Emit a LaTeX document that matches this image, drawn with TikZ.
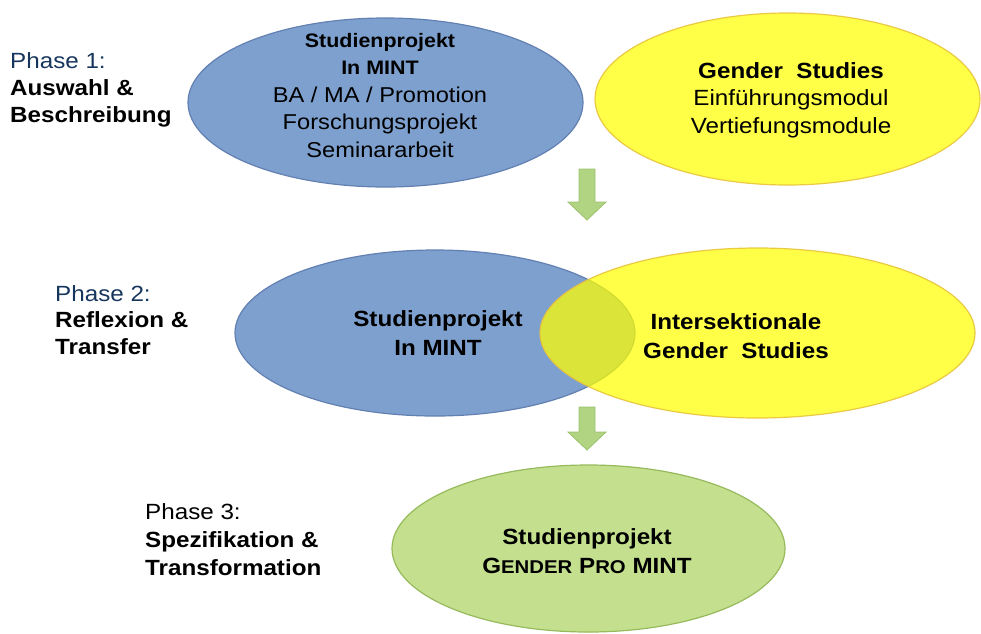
\documentclass[tikz,border=0pt]{standalone}
\usepackage{fontspec}
\setmainfont{Liberation Sans}[FakeStretch=1.1]
\usetikzlibrary{shapes.geometric}
\definecolor{mintblue}{RGB}{126,160,206}
\definecolor{mintedge}{RGB}{98,128,178}
\definecolor{gsyellow}{RGB}{255,255,0}
\definecolor{gsedge}{RGB}{232,196,60}
\definecolor{progreen}{RGB}{196,224,142}
\definecolor{proedge}{RGB}{150,186,92}
\definecolor{arrowgreen}{RGB}{176,212,130}
\definecolor{arrowedge}{RGB}{156,194,108}
\definecolor{phasenavy}{RGB}{23,54,93}
\newcommand\fakesc[1]{{\fontsize{18.5}{18.5}\selectfont #1}}
\newcommand\smallbf[1]{{\fontsize{19.5}{27.5}\selectfont\bfseries #1}}
\tikzset{
  oval/.style={ellipse, inner sep=0pt, line width=1.2pt},
  mintoval/.style={oval, fill=mintblue, draw=mintedge},
  gsoval/.style={oval, fill=gsyellow, fill opacity=0.72, draw=gsedge, draw opacity=0.9},
  prooval/.style={oval, fill=progreen, draw=proedge},
  ovaltext/.style={anchor=north, inner sep=0pt, align=center},
  phase/.style={anchor=north west, inner sep=0pt, align=left},
  blockarrow/.style={fill=arrowgreen, draw=arrowedge, line width=0.8pt, line join=miter}
}

\begin{document}
\begin{tikzpicture}[x=1pt, y=-1pt]
\useasboundingbox (0,0) rectangle (981,633);

% phase 1
\node[mintoval, minimum width=395pt, minimum height=169pt] (mint1) at (385.5,102.5) {};
\node[gsoval, minimum width=385pt, minimum height=172pt] (gs1) at (787.5,99) {};
\node[ovaltext, font=\fontsize{21.5}{27.5}\selectfont] (mint1txt) at (380,33)
  {\smallbf{Studienprojekt}\\\smallbf{In MINT}\\BA / MA / Promotion\\Forschungsprojekt\\Seminararbeit};
\node[ovaltext, font=\fontsize{22}{27.5}\selectfont] (gs1txt) at (791,62)
  {\textbf{Gender~~Studies}\\Einführungsmodul\\Vertiefungsmodule};
\node[phase, font=\fontsize{22}{27}\selectfont] (ph1) at (10,52)
  {\textcolor{phasenavy}{Phase 1:}\\\textbf{Auswahl \&}\\\textbf{Beschreibung}};

% arrow 1
\coordinate (a1) at (587,169);
\filldraw[blockarrow] (a1) ++(-8,0) -- ++(16,0) -- ++(0,33) -- ++(11,0) -- ++(-19,18) -- ++(-19,-18) -- ++(11,0) -- cycle;

% phase 2
\node[mintoval, minimum width=400pt, minimum height=166pt] (mint2) at (435,333) {};
\node[gsoval, minimum width=435pt, minimum height=170pt] (gs2) at (757.5,333) {};
\node[ovaltext, font=\fontsize{22}{29.5}\selectfont\bfseries] (mint2txt) at (438,310)
  {Studienprojekt\\In MINT};
\node[ovaltext, font=\fontsize{22}{29.5}\selectfont\bfseries] (gs2txt) at (736,313)
  {Intersektionale\\Gender~~Studies};
\node[phase, font=\fontsize{22}{26.5}\selectfont] (ph2) at (55,285)
  {\textcolor{phasenavy}{Phase 2:}\\\textbf{Reflexion \&}\\\textbf{Transfer}};

% arrow 2
\coordinate (a2) at (587,407);
\filldraw[blockarrow] (a2) ++(-8,0) -- ++(16,0) -- ++(0,25) -- ++(11,0) -- ++(-19,18) -- ++(-19,-18) -- ++(11,0) -- cycle;

% phase 3
\node[prooval, minimum width=393pt, minimum height=167pt] (pro3) at (588.5,548.5) {};
\node[ovaltext, font=\fontsize{22}{29}\selectfont\bfseries] (pro3txt) at (587,528)
  {Studienprojekt\\G\fakesc{ENDER} P\fakesc{RO} MINT};
\node[phase, font=\fontsize{22}{28}\selectfont] (ph3) at (145,503)
  {Phase 3:\\\textbf{Spezifikation \&}\\\textbf{Transformation}};
\end{tikzpicture}
\end{document}
